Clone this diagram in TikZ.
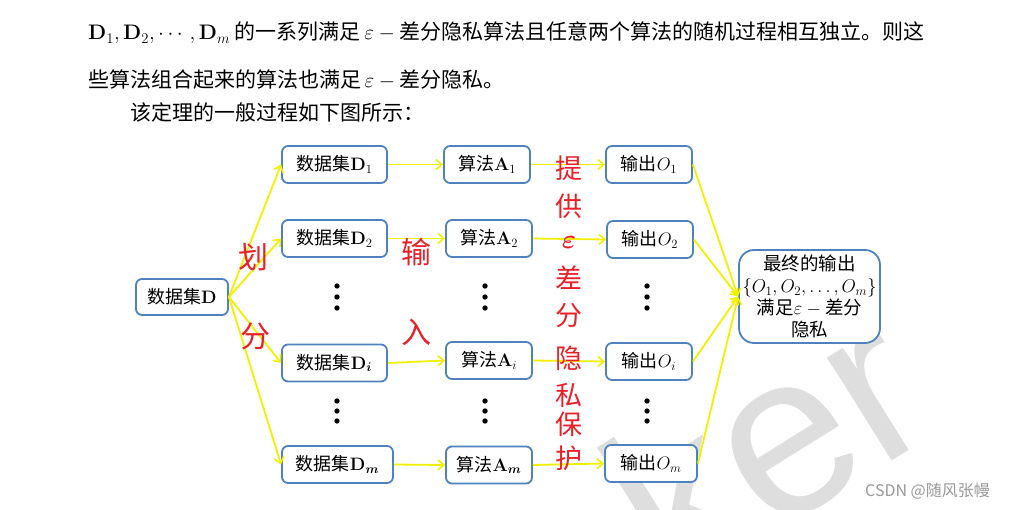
\RequirePackage{fix-cm}
\documentclass[tikz,border=0pt]{standalone}
\usepackage{amsmath,bm}
\usepackage[no-math]{fontspec}
\setmainfont{Noto Sans CJK SC}
\newfontfamily\wmfont{Liberation Sans}
\usetikzlibrary{arrows.meta}
\definecolor{boxblue}{HTML}{4F81BD}
\definecolor{arrowyellow}{HTML}{F0F000}
\definecolor{labelred}{HTML}{E8202A}
\begin{document}
\begin{tikzpicture}[x=1pt,y=-1pt,
  box/.style={draw=boxblue, line width=1.8pt, rounded corners=6pt, fill=white,
    inner sep=0pt, minimum height=37pt, font=\fontsize{18}{20}\selectfont},
  flow/.style={draw=arrowyellow, line width=1.8pt,
    -{Straight Barb[length=6pt,width=10pt,line width=1.6pt]}},
  redlbl/.style={text=labelred, font=\fontsize{30}{30}\selectfont, inner sep=0pt},
  redcol/.style={text=labelred, font=\fontsize{27}{27}\selectfont, inner sep=0pt},
  toptext/.style={anchor=base west, inner sep=0pt, font=\fontsize{21}{21}\selectfont}]
\useasboundingbox (0,0) rectangle (1016,510);
\clip (0,0) rectangle (1016,510);

% watermark
\node[rotate=32, anchor=base west, text=black!13, inner sep=0pt,
  font=\wmfont\fontsize{230}{230}\selectfont] (wm) at (672,598) {ker};
\node[anchor=west, inner sep=0pt, text=black!40, font=\fontsize{16}{16}\selectfont] (csdn) at (865,491) {CSDN @随风张幔};

% top text
\node[toptext] (t1) at (88,40) {$\mathbf{D}_1,\mathbf{D}_2,\cdots,\mathbf{D}_m$ 的一系列满足$\,\varepsilon - {}$差分隐私算法且任意两个算法的随机过程相互独立。则这};
\node[toptext] (t2) at (88,88) {些算法组合起来的算法也满足$\,\varepsilon - {}$差分隐私。};
\node[toptext] (t3) at (130,121) {该定理的一般过程如下图所示：};

% boxes
\node[box, minimum width=92pt, minimum height=36pt] (D) at (182,297) {数据集$\mathbf{D}$};
\node[box, minimum width=105pt] (D1) at (334.5,164.5) {数据集$\mathbf{D}_1$};
\node[box, minimum width=105pt] (D2) at (334.5,238.5) {数据集$\mathbf{D}_2$};
\node[box, minimum width=105pt] (Di) at (334.5,363) {数据集$\mathbf{D}_{\bm{i}}$};
\node[box, minimum width=111pt] (Dm) at (337.5,464.5) {数据集$\mathbf{D}_{\bm{m}}$};

\node[box, minimum width=86pt] (A1) at (487,164.5) {算法$\mathbf{A}_1$};
\node[box, minimum width=86pt] (A2) at (489,238.5) {算法$\mathbf{A}_2$};
\node[box, minimum width=86pt] (Ai) at (489,360.5) {算法$\mathbf{A}_i$};
\node[box, minimum width=86pt] (Am) at (489,465) {算法$\mathbf{A}_{\bm{m}}$};

\node[box, minimum width=86pt] (O1) at (649,164.5) {输出$O_1$};
\node[box, minimum width=86pt] (O2) at (650,239.5) {输出$O_2$};
\node[box, minimum width=86pt] (Oi) at (649,361.5) {输出$O_i$};
\node[box, minimum width=92pt] (Om) at (651,463.5) {输出$O_m$};

\node[box, rounded corners=15pt, minimum width=141pt, minimum height=93pt, align=center,
  font=\fontsize{18.5}{22}\selectfont] (F) at (809.5,296.5)
  {最终的输出\\$\{O_1,O_2,\dots,O_m\}$\\满足$\varepsilon -{}$差分\\隐私};

% arrows
\foreach \k in {1,2,i,m} {
  \draw[flow] (D.east) -- (D\k.west);
  \draw[flow] (D\k.east) -- (A\k.west);
  \draw[flow] (A\k.east) -- (O\k.west);
  \draw[flow] (O\k.east) -- (F.west);
}

% dots
\foreach \x in {337,485,647} {
  \foreach \y in {286,297,308,401,411,421} {
    \fill (\x,\y) circle (2.7pt);
  }
}

% red labels
\node[redlbl] (l1) at (253,257) {划};
\node[redlbl] (l2) at (255,336) {分};
\node[redlbl] (l3) at (416,252) {输};
\node[redlbl] (l4) at (416,332) {入};
\foreach \c/\y [count=\n] in {提/168,供/206,{$\bm{\varepsilon}$}/243,差/278,分/316,隐/358,私/395,保/424,护/458} {
  \node[redcol] (v\n) at (569,\y) {\c};
}
\end{tikzpicture}
\end{document}
